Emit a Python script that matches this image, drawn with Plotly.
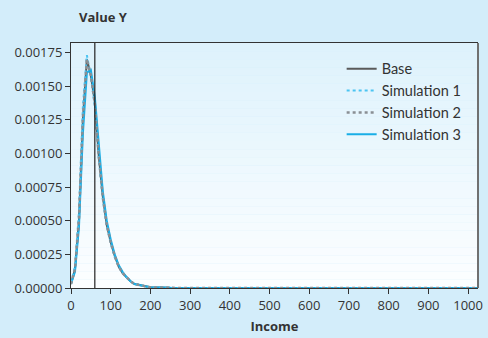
import plotly.graph_objects as go

income = [0, 10, 20, 30, 40, 50, 60, 70, 80, 90, 100, 110, 120, 130, 140, 150, 160, 175, 200, 250,
          300, 400, 500, 600, 700, 800, 900, 1000, 1025]
base = [0.00003, 0.00014, 0.00050, 0.00125, 0.00170, 0.00158, 0.00138, 0.00098, 0.00068, 0.00047,
        0.00034, 0.00024, 0.00016, 0.00011, 0.00008, 0.00005, 0.00003, 0.00002, 0.000005, 0.000001,
        0, 0, 0, 0, 0, 0, 0, 0, 0]
sim1 = [0.00004, 0.00016, 0.00056, 0.00135, 0.00173, 0.00157, 0.00135, 0.00096, 0.00066, 0.00046,
        0.00033, 0.00023, 0.00016, 0.00011, 0.00008, 0.00005, 0.00003, 0.00002, 0.000005, 0.000001,
        0, 0, 0, 0, 0, 0, 0, 0, 0]
sim2 = [0.00003, 0.00014, 0.00051, 0.00126, 0.00170, 0.00158, 0.00137, 0.00098, 0.00068, 0.00047,
        0.00034, 0.00024, 0.00016, 0.00011, 0.00008, 0.00005, 0.00003, 0.00002, 0.000005, 0.000001,
        0, 0, 0, 0, 0, 0, 0, 0, 0]
sim3 = [0.00003, 0.00012, 0.00045, 0.00115, 0.00160, 0.00162, 0.00142, 0.00104, 0.00072, 0.00050,
        0.00036, 0.00025, 0.00017, 0.00012, 0.00008, 0.00005, 0.00003, 0.00002, 0.000005, 0.000001,
        0, 0, 0, 0, 0, 0, 0, 0, 0]
poverty_line = 60
x_ticks = list(range(0, 1001, 100))
y_ticks = [0, 0.00025, 0.0005, 0.00075, 0.001, 0.00125, 0.0015, 0.00175]

FONT = "Open Sans"
fig = go.Figure()
fig.add_trace(go.Scatter(x=income, y=base, mode="lines", name="Base", legendrank=1,
                         line=dict(color="#5a5a5a", width=2)))
fig.add_trace(go.Scatter(x=income, y=sim3, mode="lines", name="Simulation 3", legendrank=4,
                         line=dict(color="#19aee6", width=2)))
fig.add_trace(go.Scatter(x=income, y=sim1, mode="lines", name="Simulation 1", legendrank=2,
                         line=dict(color="#4cc4f2", width=2, dash="dot")))
fig.add_trace(go.Scatter(x=income, y=sim2, mode="lines", name="Simulation 2", legendrank=3,
                         line=dict(color="#8a8f94", width=2.5, dash="dot")))

# gradient plot background
n = 30
top = (222, 242, 252)
bot = (252, 254, 255)
shapes = []
for i in range(n):
    t = i / (n - 1)
    c = tuple(int(round(top[k] + (bot[k] - top[k]) * t)) for k in range(3))
    shapes.append(dict(type="rect", xref="paper", yref="paper", x0=0, x1=1,
                       y0=1 - (i + 1) / n, y1=1 - i / n, fillcolor="rgb(%d,%d,%d)" % c,
                       line=dict(width=0), layer="below"))
shapes.append(dict(type="line", xref="x", yref="paper", x0=poverty_line, x1=poverty_line,
                   y0=0, y1=1, line=dict(color="#222222", width=1.2)))
shapes.append(dict(type="line", xref="paper", yref="paper", x0=1, x1=1, y0=0, y1=1,
                   line=dict(color="#707070", width=2)))

fig.update_layout(
    width=488, height=338,
    margin=dict(l=71, r=10, t=43, b=50),
    paper_bgcolor="#d3edfa", plot_bgcolor="rgba(0,0,0,0)",
    font=dict(family=FONT, size=13, color="#333333"),
    shapes=shapes,
    showlegend=True,
    legend=dict(x=0.665, y=0.96, xanchor="left", yanchor="top", bgcolor="rgba(0,0,0,0)",
                font=dict(family="Lato", size=14.5, color="#333333"), tracegroupgap=0,
                itemwidth=30),
    annotations=[dict(text="<b>Value Y</b>", xref="paper", yref="paper", x=0.014, y=1.106,
                      xanchor="left", yanchor="middle", showarrow=False,
                      font=dict(size=13, color="#333333"))],
)
fig.update_xaxes(range=[0, 1025], tickvals=x_ticks, ticks="outside", ticklen=5,
                 tickcolor="#333333", showline=True, linecolor="#333333", linewidth=1,
                 mirror=True, showgrid=False, zeroline=False, automargin=False,
                 title=dict(text="<b>Income</b>", standoff=9, font=dict(size=13)))
fig.update_yaxes(range=[0, 0.00182], tickvals=y_ticks, tickformat=".5f", ticks="outside",
                 ticklen=5, tickcolor="#333333", showline=True, linecolor="#333333",
                 linewidth=1, showgrid=False, zeroline=False, automargin=False)
fig.write_html("out.html", post_script="document.body.style.margin='0';",
               config={"displayModeBar": False})
